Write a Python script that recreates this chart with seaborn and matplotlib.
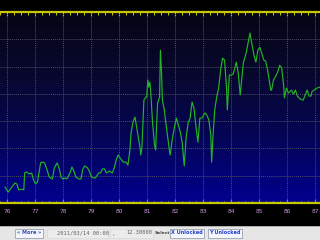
import numpy as np
import pandas as pd
import matplotlib
matplotlib.use("Agg")
import matplotlib.pyplot as plt
from matplotlib.colors import LinearSegmentedColormap
from matplotlib.patches import Rectangle, FancyBboxPatch
import seaborn as sns

# ---- data ----
days = [75.93, 76.04, 76.18, 76.28, 76.35, 76.42, 76.53, 76.60, 76.63, 76.70,
        76.81, 76.88, 76.95, 77.02, 77.09, 77.20, 77.27, 77.34, 77.41, 77.51,
        77.62, 77.69, 77.79, 77.86, 77.93, 78.00, 78.07, 78.14, 78.25, 78.32,
        78.39, 78.46, 78.57, 78.64, 78.71, 78.78, 78.88, 78.95, 79.02, 79.09,
        79.16, 79.27, 79.34, 79.41, 79.48, 79.55, 79.66, 79.76, 79.83, 79.90,
        79.97, 80.04, 80.15, 80.25, 80.32, 80.39, 80.43, 80.50, 80.57, 80.60,
        80.67, 80.75, 80.78, 80.82, 80.89, 80.96, 80.99, 81.03, 81.06, 81.10,
        81.13, 81.20, 81.27, 81.31, 81.34, 81.38, 81.45, 81.48, 81.52, 81.55,
        81.62, 81.66, 81.73, 81.80, 81.83, 81.90, 81.98, 82.05, 82.12, 82.19,
        82.26, 82.33, 82.40, 82.47, 82.54, 82.61, 82.68, 82.75, 82.82, 82.89,
        82.96, 83.07, 83.14, 83.21, 83.28, 83.31, 83.35, 83.42, 83.49, 83.56,
        83.63, 83.70, 83.77, 83.84, 83.87, 83.94, 84.01, 84.08, 84.19, 84.26,
        84.33, 84.44, 84.54, 84.65, 84.68, 84.72, 84.82, 84.89, 84.96, 85.03,
        85.10, 85.17, 85.24, 85.31, 85.42, 85.45, 85.52, 85.60, 85.67, 85.74,
        85.81, 85.88, 85.91, 85.98, 86.05, 86.16, 86.23, 86.30, 86.37, 86.47,
        86.58, 86.65, 86.72, 86.79, 86.86, 86.89, 86.96, 87.07, 87.18]
values = [0.59, 0.40, 0.59, 0.73, 0.70, 0.48, 0.51, 0.48, 1.10, 1.14,
          1.06, 1.10, 0.84, 0.70, 0.77, 1.47, 1.50, 1.47, 1.28, 0.95,
          0.88, 1.28, 1.47, 1.28, 0.95, 0.88, 0.92, 0.88, 1.10, 1.32,
          1.17, 0.95, 0.88, 0.88, 1.25, 1.36, 1.28, 1.14, 0.95, 0.92,
          0.92, 1.10, 1.10, 1.25, 1.25, 1.10, 1.17, 1.10, 1.28, 1.58,
          1.76, 1.65, 1.50, 1.50, 1.39, 1.94, 2.56, 2.97, 3.15, 2.97,
          2.56, 2.05, 1.76, 2.05, 3.77, 3.88, 3.88, 4.51, 4.25, 4.43,
          4.14, 2.93, 2.12, 1.94, 2.78, 3.66, 3.88, 5.60, 4.76, 3.77,
          3.41, 3.04, 2.49, 1.94, 1.76, 2.31, 2.78, 3.11, 2.86, 2.60,
          2.20, 1.36, 2.42, 2.93, 3.11, 3.70, 3.48, 2.78, 2.23, 3.11,
          3.11, 3.30, 3.22, 3.04, 2.49, 1.50, 2.31, 3.41, 3.88, 4.21,
          4.87, 5.31, 5.24, 4.25, 3.41, 4.69, 4.69, 4.73, 5.16, 4.76,
          3.96, 5.13, 5.49, 6.08, 6.23, 5.97, 5.42, 5.16, 5.60, 5.71,
          5.49, 5.24, 5.20, 4.87, 4.14, 4.14, 4.51, 4.65, 4.80, 5.05,
          4.95, 4.32, 3.85, 4.21, 4.03, 4.14, 3.99, 4.14, 3.92, 3.81,
          3.77, 3.96, 4.14, 3.92, 3.92, 4.07, 4.14, 4.21, 4.25]
tick_days = [76, 77, 78, 79, 80, 81, 82, 83, 84, 85, 86, 87]
tick_labels = ["76", "77", "78", "79", "80", "81", "82", "83", "84", "85", "86", "87"]
date_text = "2011/03/14 00:00 ,"
value_text = "12.30000"

df = pd.DataFrame({"day": days, "value": values})

sns.set_style("dark")
plt.rcParams["font.family"] = ["DejaVu Sans"]

fig = plt.figure(figsize=(3.2, 2.4), dpi=100)
fig.patch.set_facecolor("black")

H = 240.0
ax = fig.add_axes([0, (240 - 203) / H, 1, (203 - 12) / H])
ax.set_facecolor("#050514")

xmin, xmax = 75.93, 87.18
ymin, ymax = 0.0, 7.0

# vertical gradient background (extends beyond the view, clipped by the axes)
grad_cmap = LinearSegmentedColormap.from_list(
    "bg", ["#00008e", "#040458", "#07072e", "#050514"])
yedges = np.linspace(ymin - 0.5, ymax + 0.5, 161)
xedges = np.array([xmin - 2, xmax + 2])
cvals = np.clip((0.5 * (yedges[:-1] + yedges[1:]) - ymin) / (ymax - ymin), 0, 1)
ax.pcolormesh(xedges, yedges, cvals.reshape(-1, 1), cmap=grad_cmap,
              vmin=0, vmax=1, shading="flat", zorder=0, antialiased=False,
              edgecolors="none")

sns.lineplot(data=df, x="day", y="value", ax=ax, color="#22b422",
             linewidth=0.85, zorder=3, estimator=None, sort=False)

ax.set_xlim(xmin, xmax)
ax.set_ylim(ymin, ymax)
ax.set_xlabel("")
ax.set_ylabel("")

# grid
ax.grid(False)
for d in tick_days:
    ax.axvline(d, color="#4c4c66", linewidth=0.7, linestyle=(0, (1, 1)), zorder=1)
for yv in range(1, 7):
    ax.axhline(yv, color="#4c4c66", linewidth=0.7, linestyle=(0, (1, 1)), zorder=1)

# spines
for s in ["left", "right"]:
    ax.spines[s].set_visible(False)
for s in ["top", "bottom"]:
    ax.spines[s].set_visible(True)
    ax.spines[s].set_color("#c8c800")
    ax.spines[s].set_linewidth(1.6)

ax.set_xticks(tick_days)
ax.set_xticklabels(tick_labels)
ax.set_xticks(np.arange(75.75, 87.2, 0.25), minor=True)
ax.tick_params(axis="x", which="major", direction="in", length=3, width=0.8,
               color="#c8c800", top=True, bottom=True, labelsize=4.2,
               labelcolor="#c890d8", pad=4.5)
ax.tick_params(axis="x", which="minor", direction="in", length=1.8, width=0.7,
               color="#c8c800", top=True, bottom=True)
ax.set_yticks([])

# bottom control bar
fig.patches.append(Rectangle((0, 0), 1, 13.5 / H, transform=fig.transFigure,
                             facecolor="#e6e6e6", edgecolor="none", zorder=1))
fig.patches.append(Rectangle((0, 13.5 / H), 1, 0.6 / H, transform=fig.transFigure,
                             facecolor="#b0b0b0", edgecolor="none", zorder=1))


def button(x0, x1, label, color):
    fig.patches.append(FancyBboxPatch((x0 / 320, 2.5 / H), (x1 - x0) / 320, 9 / H,
                                      boxstyle="square,pad=0", transform=fig.transFigure,
                                      facecolor="#f4f6fb", edgecolor="#9aa0b0",
                                      linewidth=0.6, zorder=2))
    fig.text((x0 + x1) / 2 / 320, 7 / H, label, ha="center", va="center",
             fontsize=3.6, color=color, fontweight="bold", zorder=3)


# text fields
fig.patches.append(Rectangle((47 / 320, 2.5 / H), 61 / 320, 9 / H, transform=fig.transFigure,
                             facecolor="#ececec", edgecolor="#d8d8d8", linewidth=0.5, zorder=2))
fig.patches.append(Rectangle((110 / 320, 2.5 / H), 43 / 320, 9 / H, transform=fig.transFigure,
                             facecolor="#ececec", edgecolor="#d8d8d8", linewidth=0.5, zorder=2))
button(15, 43, "« More »", "#3050a0")
fig.text(57 / 320, 7 / H, date_text, ha="left", va="center", fontsize=3.9,
         color="#606060", family="DejaVu Sans Mono", zorder=3)
fig.text(152 / 320, 7 / H, value_text, ha="right", va="center", fontsize=3.9,
         color="#606060", family="DejaVu Sans Mono", zorder=3)
fig.text(155 / 320, 7 / H, "Select", ha="left", va="center", fontsize=3.2,
         color="#404040", fontweight="bold", zorder=3)
button(170, 204, "X Unlocked", "#2040d0")
button(208, 242, "Y Unlocked", "#2040d0")

fig.savefig("out.png", dpi=100, facecolor=fig.get_facecolor())
